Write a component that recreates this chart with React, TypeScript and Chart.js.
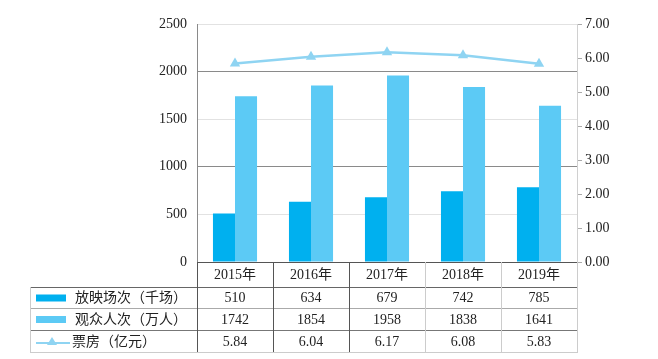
import { useEffect, useRef } from "react";
import { Chart, registerables } from "chart.js";

Chart.register(...registerables);

const years = ["2015年", "2016年", "2017年", "2018年", "2019年"];
const screenings = [510, 634, 679, 742, 785];
const audience = [1742, 1854, 1958, 1838, 1641];
const boxOffice = [5.84, 6.04, 6.17, 6.08, 5.83];
const seriesNames = ["放映场次（千场）", "观众人次（万人）", "票房（亿元）"];
const rowValues = [
  screenings.map((v) => String(v)),
  audience.map((v) => String(v)),
  boxOffice.map((v) => v.toFixed(2)),
];

const DARK = "#00b0ef";
const LIGHT = "#5ccaf5";
const LINE = "#8fd4f2";
const FONT = "'Liberation Serif', 'Noto Sans CJK SC', serif";

const tablePlugin = {
  id: "dataTable",
  afterDraw(chart: any) {
    const { ctx, chartArea } = chart;
    const n = years.length;
    const left = chartArea.left;
    const right = chartArea.right;
    const cw = (right - left) / n;
    const top = chartArea.bottom;
    const bounds = [top, top + 25, top + 46, top + 68, top + 90];
    const tableLeft = 30;
    const px = (v: number) => Math.round(v) + 0.5;

    ctx.save();
    ctx.lineWidth = 1;
    const hLines = [
      { y: bounds[0], x0: left, c: "#555" },
      { y: bounds[1], x0: tableLeft, c: "#666" },
      { y: bounds[2], x0: tableLeft, c: "#aaa" },
      { y: bounds[3], x0: tableLeft, c: "#777" },
      { y: bounds[4], x0: tableLeft, c: "#ccc" },
    ];
    hLines.forEach((l) => {
      ctx.strokeStyle = l.c;
      ctx.beginPath();
      ctx.moveTo(l.x0, px(l.y));
      ctx.lineTo(right + 1, px(l.y));
      ctx.stroke();
    });
    const vColors = ["#555", "#555", "#555", "#ccc", "#ccc", "#ccc"];
    for (let i = 0; i <= n; i++) {
      const x = left + i * cw;
      ctx.strokeStyle = vColors[i];
      ctx.beginPath();
      ctx.moveTo(px(x), bounds[0]);
      ctx.lineTo(px(x), bounds[4]);
      ctx.stroke();
    }
    ctx.strokeStyle = "#ccc";
    ctx.beginPath();
    ctx.moveTo(px(tableLeft), bounds[1]);
    ctx.lineTo(px(tableLeft), bounds[4]);
    ctx.stroke();

    ctx.fillStyle = "#222";
    ctx.font = `14px ${FONT}`;
    ctx.textAlign = "center";
    ctx.textBaseline = "middle";
    years.forEach((y, i) => {
      const cx = chart.scales.x.getPixelForValue(i);
      ctx.fillText(y, cx, (bounds[0] + bounds[1]) / 2 + 1);
      rowValues.forEach((row, r) => {
        ctx.fillText(row[i], cx, (bounds[r + 1] + bounds[r + 2]) / 2 + 1);
      });
    });

    ctx.textAlign = "left";
    seriesNames.forEach((name, r) => {
      const cy = (bounds[r + 1] + bounds[r + 2]) / 2;
      if (r < 2) {
        ctx.fillStyle = r === 0 ? DARK : LIGHT;
        ctx.fillRect(36, cy - 3, 30, 7);
      } else {
        ctx.strokeStyle = LINE;
        ctx.lineWidth = 2;
        ctx.beginPath();
        ctx.moveTo(36, cy + 2);
        ctx.lineTo(70, cy + 2);
        ctx.stroke();
        ctx.fillStyle = LINE;
        ctx.beginPath();
        ctx.moveTo(52, cy - 4);
        ctx.lineTo(57, cy + 4);
        ctx.lineTo(47, cy + 4);
        ctx.closePath();
        ctx.fill();
      }
      ctx.fillStyle = "#222";
      ctx.fillText(name, r < 2 ? 75 : 72, cy + 1);
    });
    ctx.restore();
  },
};

export default function App() {
  const ref = useRef<HTMLCanvasElement>(null);
  useEffect(() => {
    document.body.style.margin = "0";
    const chart = new Chart(ref.current!, {
      type: "bar",
      data: {
        labels: years,
        datasets: [
          {
            type: "line",
            label: seriesNames[2],
            data: boxOffice,
            yAxisID: "y2",
            borderColor: LINE,
            backgroundColor: LINE,
            borderWidth: 2.5,
            pointStyle: "triangle",
            pointRadius: 6,
            pointBorderWidth: 0,
            order: 0,
          } as any,
          {
            label: seriesNames[0],
            data: screenings,
            yAxisID: "y",
            backgroundColor: DARK,
            categoryPercentage: 0.58,
            barPercentage: 1,
            order: 1,
          },
          {
            label: seriesNames[1],
            data: audience,
            yAxisID: "y",
            backgroundColor: LIGHT,
            categoryPercentage: 0.58,
            barPercentage: 1,
            order: 1,
          },
        ],
      },
      options: {
        responsive: false,
        animation: false,
        devicePixelRatio: 1,
        layout: { padding: { top: 24, bottom: 97, left: 0, right: 0 } },
        plugins: { legend: { display: false }, tooltip: { enabled: false } },
        scales: {
          x: { display: false },
          y: {
            position: "left",
            min: 0,
            max: 2500,
            afterFit: (s: any) => {
              s.width = 197;
            },
            ticks: {
              stepSize: 500,
              padding: 10,
              color: "#222",
              font: { family: FONT, size: 14 },
              callback: (v: any) => String(v),
            },
            grid: {
              drawTicks: false,
              color: (c: any) => {
                const v = c.tick ? c.tick.value : 0;
                if (v === 0) return "#555";
                if (v === 1000 || v === 2000) return "#8a8a8a";
                return "#e2e2e2";
              },
            },
            border: { color: "#8a8a8a" },
          },
          y2: {
            position: "right",
            min: 0,
            max: 7,
            afterFit: (s: any) => {
              s.width = 81;
            },
            ticks: {
              stepSize: 1,
              padding: 3,
              color: "#222",
              font: { family: FONT, size: 14 },
              callback: (v: any) => Number(v).toFixed(2),
            },
            grid: { drawOnChartArea: false, tickLength: 5, color: "#aaa" },
            border: { color: "#d0d0d0" },
          },
        },
      },
      plugins: [tablePlugin],
    });
    return () => chart.destroy();
  }, []);
  return (
    <div style={{ width: 658, height: 359 }}>
      <canvas ref={ref} width={658} height={359} />
    </div>
  );
}
